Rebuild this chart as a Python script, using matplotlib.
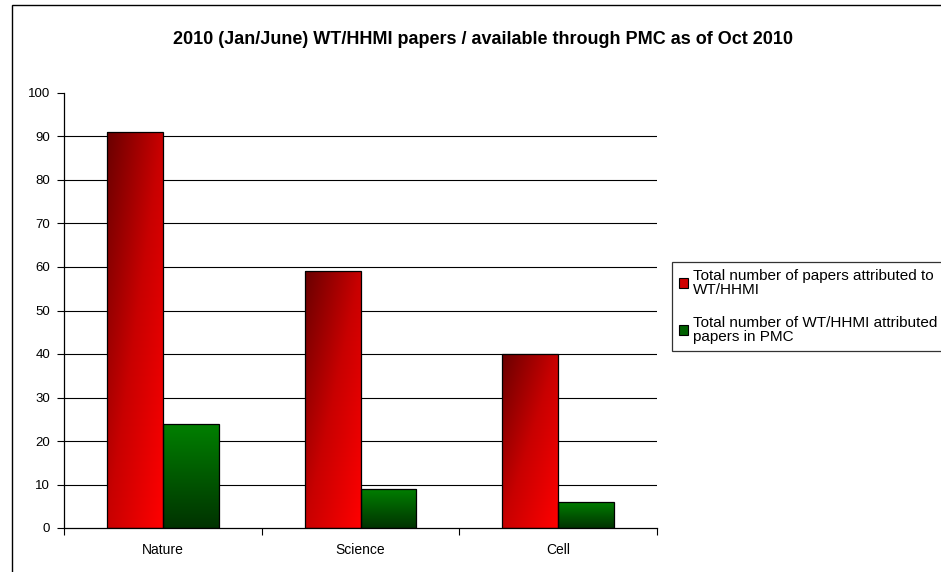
import numpy as np
import matplotlib
matplotlib.use('Agg')
import matplotlib.pyplot as plt
from matplotlib.patches import Rectangle, Patch
from matplotlib.colors import LinearSegmentedColormap

plt.rcParams['font.family'] = ['Liberation Sans', 'DejaVu Sans']

title = '2010 (Jan/June) WT/HHMI papers / available through PMC as of Oct 2010'
journals = ['Nature', 'Science', 'Cell']
total_papers = [91, 59, 40]
papers_in_pmc = [24, 9, 6]
series_names = ['Total number of papers attributed to\nWT/HHMI',
                'Total number of WT/HHMI attributed\npapers in PMC']

W, H = 941, 572
fig = plt.figure(figsize=(W / 100, H / 100), dpi=100)

# whole chart frame, runs off the right and bottom edges like the original
fig.patches.append(Rectangle((12 / W, -0.1), 2, 1 - 5 / H + 0.1, transform=fig.transFigure,
                             fill=False, edgecolor='black', linewidth=1.0))

ax = fig.add_axes([64 / W, (H - 528) / H, (657 - 64) / W, (528 - 93) / H])
for s in ['top', 'right']:
    ax.spines[s].set_visible(False)
ax.spines['left'].set_linewidth(0.9)
ax.spines['bottom'].set_linewidth(0.9)

x = np.arange(len(journals))
width = 0.283
reds = ax.bar(x - width / 2, total_papers, width, facecolor='none', edgecolor='black',
              linewidth=0.9, zorder=3)
greens = ax.bar(x + width / 2, papers_in_pmc, width, facecolor='none', edgecolor='black',
                linewidth=0.9, zorder=3)

red_cmap = LinearSegmentedColormap.from_list('r', ['#6a0000', '#c80000', '#ff0000'])
green_cmap = LinearSegmentedColormap.from_list('g', ['#008000', '#003300'])

# row 0 = top of the bar
gx, gy = np.meshgrid(np.linspace(0, 1, 60), np.linspace(0, 1, 200))
red_grad = (gx + gy) / 2
green_grad = gy

for bars, grad, cmap in [(reds, red_grad, red_cmap), (greens, green_grad, green_cmap)]:
    for b in bars:
        x0, y0 = b.get_x(), b.get_y()
        x1, y1 = x0 + b.get_width(), y0 + b.get_height()
        im = ax.imshow(grad, cmap=cmap, extent=[x0, x1, y0, y1], aspect='auto',
                       origin='upper', zorder=2, interpolation='bilinear')
        im.set_clip_path(b)

ax.set_xlim(-0.5, len(journals) - 0.5)
ax.set_ylim(0, 100)
ax.set_yticks(np.arange(0, 101, 10))
for v in range(10, 100, 10):
    ax.axhline(v, color='black', linewidth=0.8, zorder=1)

ax.set_xticks(x)
ax.set_xticklabels(journals)
ax.set_xticks(np.arange(-0.5, len(journals), 1), minor=True)
ax.tick_params(axis='x', which='major', length=0, pad=11, labelsize=10)
ax.tick_params(axis='x', which='minor', length=5, width=0.8, direction='out')
ax.tick_params(axis='y', length=5, width=0.8, direction='out', pad=5, labelsize=9.5)

fig.text(483 / W, 1 - 40 / H, title, ha='center', va='center', fontsize=13, fontweight='bold')

handles = [Patch(facecolor='#d00000', edgecolor='black', linewidth=0.8),
           Patch(facecolor='#006000', edgecolor='black', linewidth=0.8)]
leg = fig.legend(handles, series_names, loc='upper left',
                 bbox_to_anchor=(672 / W, 1 - 262 / H), fontsize=11, frameon=True,
                 fancybox=False, edgecolor='black', handlelength=0.6, handleheight=0.6,
                 handletextpad=0.35, borderpad=0.45, labelspacing=1.25, borderaxespad=0)
leg.get_frame().set_linewidth(0.9)
for t in leg.get_texts():
    t.set_linespacing(1.0)

fig.savefig('out.png', dpi=100)
